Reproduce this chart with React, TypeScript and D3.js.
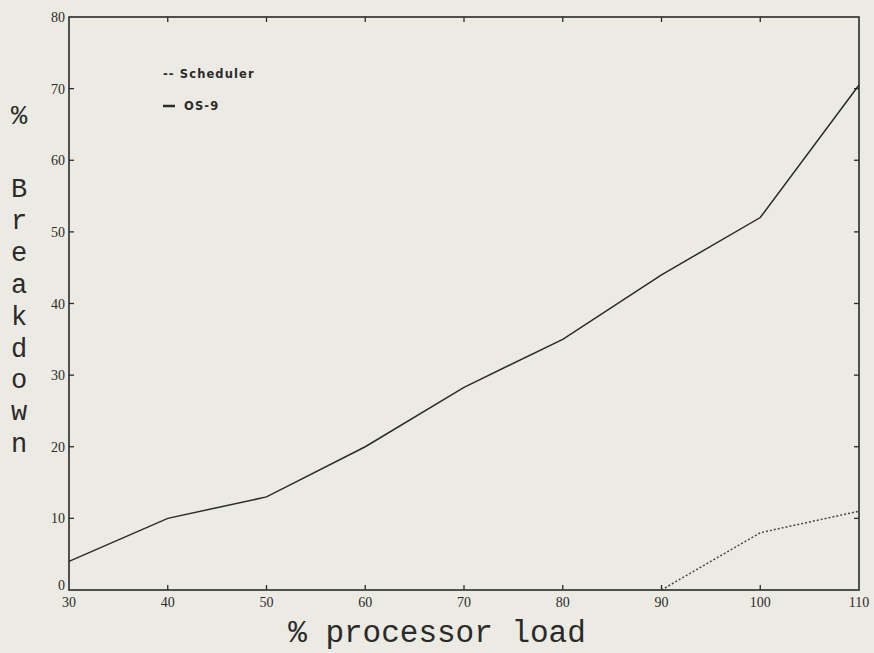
import { useEffect, useRef } from "react";
import * as d3 from "d3";

// processor load (%)
const loads = [30, 40, 50, 60, 70, 80, 90, 100, 110];
// OS-9 breakdown (%)
const os9Values = [4, 10, 13, 20, 28.3, 35, 44, 52, 70.5];
// Scheduler breakdown (%) — only measured from 90 upward
const schedLoads = [90, 100, 110];
const schedValues = [0, 8, 11];

const xTicks = [30, 40, 50, 60, 70, 80, 90, 100, 110];
const yTicks = [0, 10, 20, 30, 40, 50, 60, 70, 80];
const yLabelWord = ["B", "r", "e", "a", "k", "d", "o", "w", "n"];

export default function App() {
  const ref = useRef<SVGSVGElement | null>(null);

  useEffect(() => {
    if (!ref.current) return;
    const W = 874;
    const H = 653;
    const margin = { top: 17, right: 15, bottom: 63, left: 69 };

    const svg = d3.select(ref.current);
    svg.selectAll("*").remove();

    svg.append("rect").attr("width", W).attr("height", H).attr("fill", "#ecebe3");

    const x = d3.scaleLinear().domain([30, 110]).range([margin.left, W - margin.right]);
    const y = d3.scaleLinear().domain([0, 80]).range([H - margin.bottom, margin.top]);

    const ink = "#2a2a2a";
    const tickFont = "'Liberation Serif', serif";

    // frame
    svg
      .append("rect")
      .attr("x", x(30))
      .attr("y", y(80))
      .attr("width", x(110) - x(30))
      .attr("height", y(0) - y(80))
      .attr("fill", "none")
      .attr("stroke", ink)
      .attr("stroke-width", 1.6);

    // ticks pointing inward on all sides
    const tl = 5;
    xTicks.slice(1, -1).forEach((t) => {
      svg.append("line").attr("x1", x(t)).attr("x2", x(t)).attr("y1", y(0)).attr("y2", y(0) - tl).attr("stroke", ink).attr("stroke-width", 1.3);
      svg.append("line").attr("x1", x(t)).attr("x2", x(t)).attr("y1", y(80)).attr("y2", y(80) + tl).attr("stroke", ink).attr("stroke-width", 1.3);
    });
    yTicks.slice(1, -1).forEach((t) => {
      svg.append("line").attr("x1", x(30)).attr("x2", x(30) + tl).attr("y1", y(t)).attr("y2", y(t)).attr("stroke", ink).attr("stroke-width", 1.3);
      svg.append("line").attr("x1", x(110)).attr("x2", x(110) - tl).attr("y1", y(t)).attr("y2", y(t)).attr("stroke", ink).attr("stroke-width", 1.3);
    });

    // tick labels
    svg
      .selectAll("text.xt")
      .data(xTicks)
      .join("text")
      .attr("class", "xt")
      .attr("x", (d) => x(d))
      .attr("y", y(0) + 17)
      .attr("text-anchor", "middle")
      .attr("font-family", tickFont)
      .attr("font-size", 14)
      .attr("fill", ink)
      .text((d) => d);

    svg
      .selectAll("text.yt")
      .data(yTicks)
      .join("text")
      .attr("class", "yt")
      .attr("x", x(30) - 4)
      .attr("y", (d) => y(d) + (d === 0 ? 0 : 5))
      .attr("text-anchor", "end")
      .attr("font-family", tickFont)
      .attr("font-size", 14)
      .attr("fill", ink)
      .text((d) => d);

    // series
    const os9Line = d3
      .line<number>()
      .x((_, i) => x(loads[i]))
      .y((d) => y(d));
    svg
      .append("path")
      .attr("d", os9Line(os9Values))
      .attr("fill", "none")
      .attr("stroke", ink)
      .attr("stroke-width", 1.5);

    const schedLine = d3
      .line<number>()
      .x((_, i) => x(schedLoads[i]))
      .y((d) => y(d));
    svg
      .append("path")
      .attr("d", schedLine(schedValues))
      .attr("fill", "none")
      .attr("stroke", "#444")
      .attr("stroke-width", 1.5)
      .attr("stroke-dasharray", "2,2");

    // legend
    const legFont = "'DejaVu Sans', sans-serif";
    svg.append("text").attr("x", 163).attr("y", 78).attr("font-family", legFont).attr("font-size", 11.5).attr("font-weight", "bold").attr("letter-spacing", 1.1).attr("fill", ink).text("-- Scheduler");
    svg.append("line").attr("x1", 163).attr("x2", 175).attr("y1", 106).attr("y2", 106).attr("stroke", ink).attr("stroke-width", 2.5);
    svg.append("text").attr("x", 184).attr("y", 110).attr("font-family", legFont).attr("font-size", 11.5).attr("font-weight", "bold").attr("letter-spacing", 1.1).attr("fill", ink).text("OS-9");

    // axis titles
    const monoFont = "'Liberation Mono', 'DejaVu Sans Mono', monospace";
    svg
      .append("text")
      .attr("x", 437)
      .attr("y", 642)
      .attr("text-anchor", "middle")
      .attr("font-family", monoFont)
      .attr("font-size", 31)
      .attr("fill", ink)
      .text("% processor load");

    svg
      .append("text")
      .attr("x", 19)
      .attr("y", 117)
      .attr("text-anchor", "middle")
      .attr("dominant-baseline", "central")
      .attr("font-family", monoFont)
      .attr("font-size", 27)
      .attr("fill", ink)
      .text("%");

    svg
      .selectAll("text.yl")
      .data(yLabelWord)
      .join("text")
      .attr("class", "yl")
      .attr("x", 19)
      .attr("y", (_, i) => 190 + i * 31.9)
      .attr("text-anchor", "middle")
      .attr("dominant-baseline", "central")
      .attr("font-family", monoFont)
      .attr("font-size", 27)
      .attr("fill", ink)
      .text((d) => d);
  }, []);

  return (
    <svg
      ref={ref}
      width={874}
      height={653}
      style={{ position: "absolute", left: 0, top: 0, display: "block" }}
    />
  );
}
